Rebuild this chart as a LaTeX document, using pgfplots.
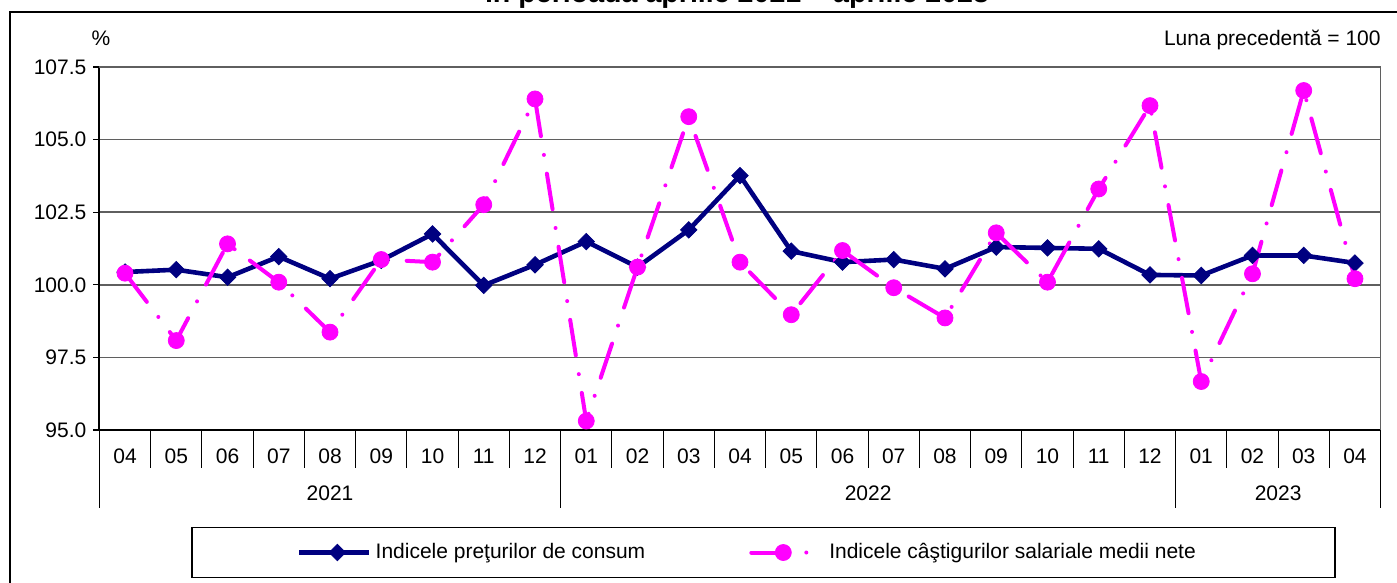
\documentclass[border=0pt]{standalone}
\usepackage{fontspec}
\setmainfont{Liberation Sans}
\usepackage{pgfplots}
\pgfplotsset{compat=1.18}
\definecolor{cpi}{RGB}{0,0,128}
\definecolor{wage}{RGB}{255,0,255}
\definecolor{gridc}{RGB}{95,95,95}
\pgfplotsset{
  legone/.style={legend image code/.code={\draw[mark repeat=2,mark phase=2,##1] plot coordinates {(0pt,0pt) (19pt,0pt) (35pt,0pt)};}},
  legtwo/.style={legend image code/.code={\draw[mark repeat=2,mark phase=2,##1] plot coordinates {(0pt,0pt) (16pt,0pt) (36pt,0pt)};}},
}
\newcommand{\fs}{\fontsize{10.5}{12.5}\selectfont}
\begin{document}
\begin{tikzpicture}
\begin{scope}[x=0.5pt,y=-0.5pt]
\draw[line width=1pt] (10,620) -- (10,12) -- (1420,12);
\node[anchor=base,font=\bfseries\fontsize{14.3}{16}\selectfont] at (737,3) {în perioada aprilie 2021 – aprilie 2023};
\node[anchor=base,font=\fs] at (101,46) {\%};
\node[anchor=base east,font=\fs,inner sep=0pt] at (1381,46) {Luna precedentă = 100};
\end{scope}
\begin{axis}[
  at={(49.7pt,-215pt)}, anchor=south west,
  scale only axis, width=640.6pt, height=181.5pt,
  xmin=-0.5, xmax=24.5, ymin=95, ymax=107.5,
  axis x line=bottom, axis y line=left,
  axis line style={-, black, line width=1pt},
  xtick={0,...,24},
  xticklabels={04,05,06,07,08,09,10,11,12,01,02,03,04,05,06,07,08,09,10,11,12,01,02,03,04},
  xtick style={draw=none},
  xticklabel style={anchor=base, yshift=-13.5pt},
  ytick={95,97.5,100,102.5,105,107.5},
  yticklabels={95.0,97.5,100.0,102.5,105.0,107.5},
  ytick style={black, line width=0.6pt},
  tick align=outside, major tick length=3pt,
  yticklabel style={anchor=east},
  ymajorgrids, major grid style={gridc, line width=0.75pt},
  tick label style={font=\fs},
  clip=false,
  legend columns=2,
  legend style={at={(0.5183,-0.3375)}, anchor=center, draw=black, line width=0.75pt,
    inner xsep=52.5pt, inner ysep=6pt, font=\fs,
    /tikz/every even column/.append style={column sep=50pt}},
]
\draw[gridc, line width=0.75pt] (rel axis cs:0,1) -- (rel axis cs:1,1) -- (rel axis cs:1,0);
\pgfplotsinvokeforeach{0.5,1.5,2.5,3.5,4.5,5.5,6.5,7.5,9.5,10.5,11.5,12.5,13.5,14.5,15.5,16.5,17.5,18.5,19.5,21.5,22.5,23.5}{
  \draw[black, line width=0.6pt] (axis cs:#1,95) -- ++(0pt,-19pt);
}
\pgfplotsinvokeforeach{-0.5,8.5,20.5,24.5}{
  \draw[black, line width=0.6pt] (axis cs:#1,95) -- ++(0pt,-39pt);
}
\node[anchor=base, yshift=-35pt, font=\fs] at (axis cs:4,95) {2021};
\node[anchor=base, yshift=-35pt, font=\fs] at (axis cs:14.5,95) {2022};
\node[anchor=base, yshift=-35pt, font=\fs] at (axis cs:22.5,95) {2023};

\addplot[cpi, line width=2.3pt, mark=square*, mark size=2.9pt,
  mark options={rotate=45, line width=0.4pt}, legone]
coordinates {
(0,100.44) (1,100.52) (2,100.26) (3,100.97) (4,100.21) (5,100.84) (6,101.75) (7,99.98) (8,100.69)
(9,101.49) (10,100.61) (11,101.89) (12,103.76) (13,101.16) (14,100.78) (15,100.87) (16,100.55)
(17,101.30) (18,101.27) (19,101.24) (20,100.34) (21,100.32) (22,101.01) (23,101.01) (24,100.75)
};
\addlegendentry{Indicele preţurilor de consum}

\addplot[wage, line width=2pt, line cap=round, dash pattern=on 18pt off 9.5pt on 0pt off 9.5pt,
  mark=*, mark size=4pt, mark options={solid, line width=0.4pt}, legtwo]
coordinates {
(0,100.40) (1,98.08) (2,101.41) (3,100.09) (4,98.37) (5,100.87) (6,100.78) (7,102.76) (8,106.40)
(9,95.31) (10,100.61) (11,105.79) (12,100.78) (13,98.97) (14,101.18) (15,99.90) (16,98.86)
(17,101.79) (18,100.09) (19,103.30) (20,106.17) (21,96.67) (22,100.38) (23,106.69) (24,100.21)
};
\addlegendentry{Indicele câştigurilor salariale medii nete\rule{15pt}{0pt}}
\end{axis}
\pgfresetboundingbox
\useasboundingbox (0pt,0pt) rectangle (698.5pt,-291.5pt);
\end{tikzpicture}
\end{document}
